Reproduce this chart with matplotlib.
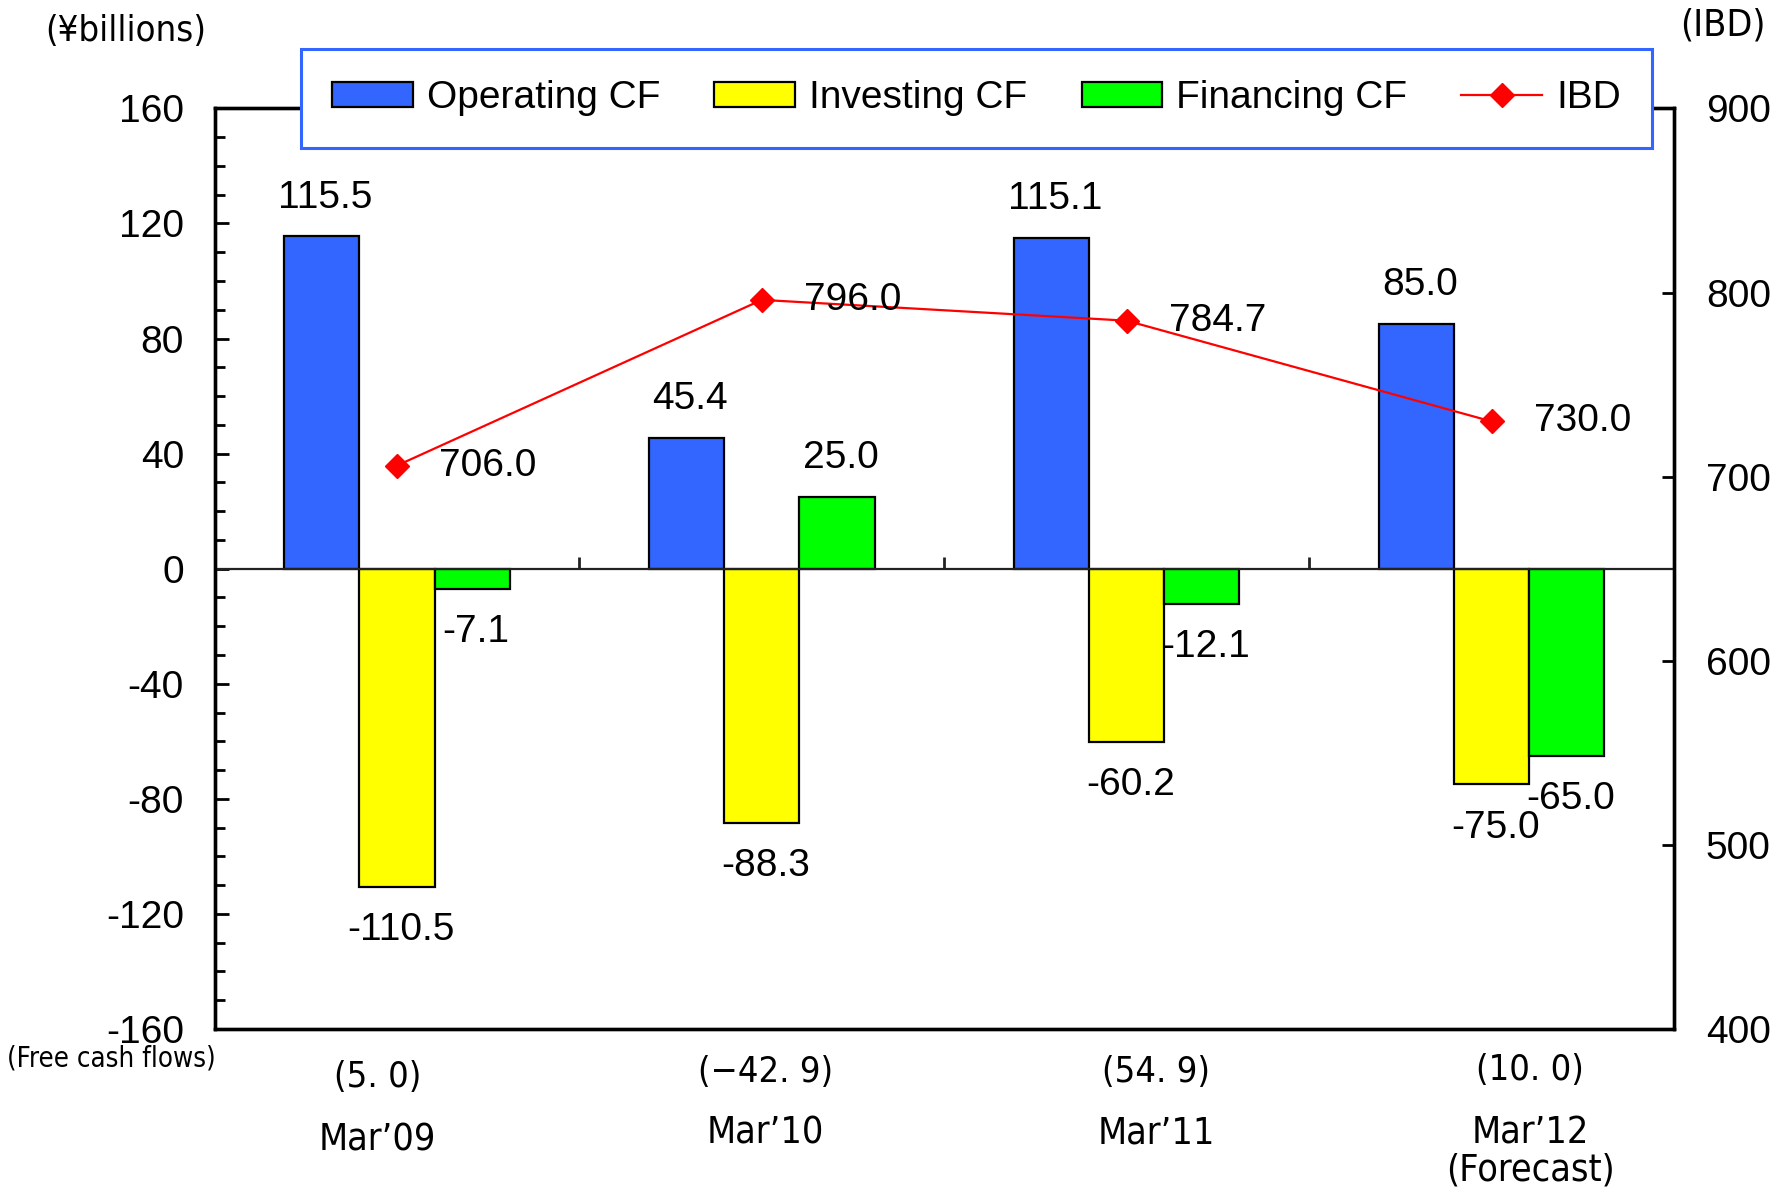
import matplotlib
matplotlib.use("Agg")
import matplotlib.pyplot as plt
import numpy as np
from matplotlib.patches import Patch
from matplotlib.lines import Line2D
from matplotlib.transforms import blended_transform_factory
from matplotlib import font_manager as fm

plt.rcParams['font.family'] = ['Liberation Sans', 'DejaVu Sans']

# pick a condensed face if one is installed
_fonts = fm.fontManager.ttflist
_names = {f.name for f in _fonts}
if 'Liberation Sans Narrow' in _names:
    NARROW = dict(family=['Liberation Sans Narrow', 'Liberation Sans'])
    NSCALE = 1.0
elif any(f.name == 'DejaVu Sans' and str(f.stretch) in ('condensed', 'semi-condensed', '400', '500')
         and 'Condensed' in f.fname for f in _fonts):
    NARROW = dict(family=['DejaVu Sans'], fontstretch='condensed')
    NSCALE = 0.9
else:
    NARROW = dict(family=['Liberation Sans', 'DejaVu Sans'])
    NSCALE = 0.87

# ---- data ----
categories = ["Mar’09", "Mar’10", "Mar’11", "Mar’12\n(Forecast)"]
operating_cf = [115.5, 45.4, 115.1, 85.0]
investing_cf = [-110.5, -88.3, -60.2, -75.0]
financing_cf = [-7.1, 25.0, -12.1, -65.0]
ibd = [706.0, 796.0, 784.7, 730.0]
free_cf_labels = ["(5. 0)", "(−42. 9)", "(54. 9)", "(10. 0)"]
left_ticks = [-160, -120, -80, -40, 0, 40, 80, 120, 160]
right_ticks = [400, 500, 600, 700, 800, 900]

BLUE = '#3366FF'
YELLOW = '#FFFF00'
GREEN = '#00FF00'
RED = '#FF0000'

fig = plt.figure(figsize=(17.89, 11.91), dpi=100)
ax = fig.add_axes([0.1199, 0.1360, 0.8158, 0.7730])
ax2 = ax.twinx()

x = np.arange(len(categories))
w = 0.206
series = [(operating_cf, BLUE, -w, 'Operating CF'),
          (investing_cf, YELLOW, 0.0, 'Investing CF'),
          (financing_cf, GREEN, w, 'Financing CF')]
for vals, col, off, lab in series:
    ax.bar(x + off, vals, width=w, color=col, edgecolor='black', linewidth=1.6, zorder=3)
    for xi, v in zip(x, vals):
        yy = v + 13.5 if v >= 0 else v - 15
        ax.text(xi + off + 0.01, yy, f"{v:.1f}", ha='center', va='center',
                fontsize=28, zorder=5)

ax.set_xlim(-0.5, len(categories) - 0.5)
ax.set_ylim(-160, 160)
ax.set_yticks(left_ticks)
ax.set_yticklabels([str(t) for t in left_ticks])
ax.yaxis.set_minor_locator(matplotlib.ticker.MultipleLocator(10))
ax.tick_params(axis='y', which='major', direction='in', length=10, width=2.0,
               labelsize=28, pad=22)
ax.tick_params(axis='y', which='minor', direction='in', length=7, width=2.0)
ax.set_xticks([])

# zero line and category boundary marks
ax.axhline(0, color='#222222', linewidth=1.6, zorder=4)
bounds = (x[:-1] + 0.5)
ax.vlines(bounds, 0, 4, color='#222222', linewidth=2.0, zorder=4)

for sp in ax.spines.values():
    sp.set_linewidth(2.4)
for sp in ax2.spines.values():
    sp.set_linewidth(2.4)

# IBD line
ax2.plot(x, ibd, color=RED, linewidth=1.6, marker='D', markersize=12, zorder=6)
for xi, v in zip(x, ibd):
    ax2.text(xi + 0.25, v, f"{v:.1f}", ha='center', va='center', fontsize=28, zorder=7)
ax2.set_ylim(400, 900)
ax2.set_yticks(right_ticks)
ax2.set_yticklabels([str(t) for t in right_ticks])
ax2.tick_params(axis='y', direction='in', length=8.5, width=2.0, labelsize=28, pad=23)

# bottom labels
trans = blended_transform_factory(ax.transData, fig.transFigure)
fcf_dx = [-0.053, 0.009, 0.081, 0.106]
fcf_y = [0.0957, 0.0995, 0.0995, 0.1016]
cat_y = [0.0428, 0.0479, 0.0479, 0.0327]
for i in range(len(categories)):
    fig.text(x[i] + fcf_dx[i], fcf_y[i], free_cf_labels[i], transform=trans,
             ha='center', va='center', fontsize=26, **NARROW)
    fig.text(x[i] + fcf_dx[i], cat_y[i], categories[i], transform=trans,
             ha='center', va='center', fontsize=30 * NSCALE, linespacing=1.05, **NARROW)

fig.text(0.0702, 0.974, "(¥billions)", ha='center', va='center', fontsize=29 * NSCALE, **NARROW)
fig.text(0.9631, 0.979, "(IBD)", ha='center', va='center', fontsize=27, **NARROW)
fig.text(0.0620, 0.1115, "(Free cash flows)", ha='center', va='center', fontsize=22 * NSCALE, **NARROW)

# legend
handles = [Patch(facecolor=BLUE, edgecolor='black', linewidth=1.6),
           Patch(facecolor=YELLOW, edgecolor='black', linewidth=1.6),
           Patch(facecolor=GREEN, edgecolor='black', linewidth=1.6),
           Line2D([], [], color=RED, linewidth=1.6, marker='D', markersize=12)]
labels = ['Operating CF', 'Investing CF', 'Financing CF', 'IBD']
leg = fig.legend(handles, labels, loc='center', bbox_to_anchor=(0.5458, 0.9173),
                 ncol=4, fontsize=28, frameon=True, fancybox=False, framealpha=1,
                 edgecolor=BLUE, handlelength=2.08, handleheight=0.6,
                 handletextpad=0.35, columnspacing=1.4, borderpad=0.8)
leg.get_frame().set_linewidth(2.2)

fig.savefig("out.png", dpi=100)
